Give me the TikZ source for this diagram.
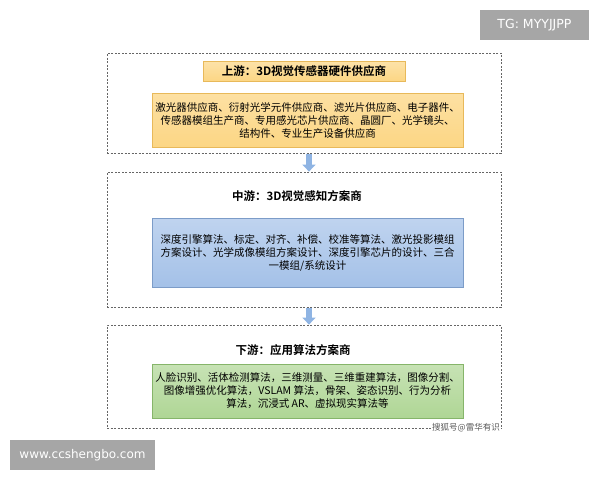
\documentclass[tikz,border=0pt]{standalone}
\usepackage{fontspec}
\setmainfont{Noto Sans CJK SC}[BoldFont={Noto Sans CJK SC Bold}]
\newfontfamily\wmfont{DejaVu Sans}
\usepackage{tikz}
\usetikzlibrary{arrows.meta, positioning, calc}

\definecolor{orangefill}{HTML}{FCD684}
\definecolor{orangeline}{HTML}{E8B95A}
\definecolor{bluefill}{HTML}{A4C1E8}
\definecolor{blueline}{HTML}{7C9CC8}
\definecolor{greenfill}{HTML}{AFD695}
\definecolor{greenline}{HTML}{86B56A}
\definecolor{arrowblue}{HTML}{8FB4E3}
\definecolor{wmgray}{HTML}{A6A6A6}

\begin{document}
\begin{tikzpicture}[x=1pt, y=-1pt, stagebox/.style={draw=gray!80!black,
      dash pattern=on 2pt off 1.5pt, line width=0.8pt, minimum width=394pt},
      headbox/.style={draw=orangeline, top color=orangefill!70,
      bottom color=orangefill, minimum width=202pt, minimum height=20pt,
      font=\fontsize{11.5}{13}\selectfont\bfseries}, headtext/.style={
      font=\fontsize{11.5}{13}\selectfont\bfseries}, detail/.style={
      minimum width=311pt, align=center, inner sep=0pt,
      font=\fontsize{10.5}{13}\selectfont}, flow/.style={line width=6pt,
      arrowblue, -{Triangle[length=7pt, width=13pt]}, shorten <=0.5pt},
      wmark/.style={fill=wmgray, text=white, inner sep=0pt} ]

    \useasboundingbox (0,0) rectangle (600,480);

    % Dashed stage frames
    \node[stagebox, minimum height=100pt] (up) at (304,103) {};
    \node[stagebox, minimum height=135pt] (mid) at (304,239.5) {};
    \node[stagebox, minimum height=103pt] (down) at (304,376.5) {};

    % Upstream
    \node[headbox] (uphead) at (304,71) {上游：3D视觉传感器硬件供应商};
    \node[detail, draw=orangeline, top color=orangefill!75, bottom
    color=orangefill, minimum height=54pt] (updetail) at (307.5,120)
    {激光器供应商、衍射光学元件供应商、滤光片供应商、电子器件、\\
    传感器模组生产商、专用感光芯片供应商、晶圆厂、光学镜头、\\
    结构件、专业生产设备供应商};

    % Midstream
    \node[headtext] (midhead) at (297,196) {中游：3D视觉感知方案商};
    \node[detail, draw=blueline, top color=bluefill!70, bottom
    color=bluefill, minimum height=69pt] (middetail) at (307.5,252.5)
    {深度引擎算法、标定、对齐、补偿、校准等算法、激光投影模组\\
    方案设计、光学成像模组方案设计、深度引擎芯片的设计、三合\\
    一模组/系统设计};

    % Downstream
    \node[headtext] (downhead) at (293,350) {下游：应用算法方案商};
    \node[detail, draw=greenline, top color=greenfill!70, bottom
    color=greenfill, minimum height=54pt] (downdetail) at (307.5,391)
    {人脸识别、活体检测算法，三维测量、三维重建算法，图像分割、\\
    图像增强优化算法，VSLAM 算法，骨架、姿态识别、行为分析\\
    算法，沉浸式 AR、虚拟现实算法等};

    % Flow arrows between stages
    \draw[flow] ($(up.south)+(5,0)$) -- ($(mid.north)+(5,0)$);
    \draw[flow] ($(mid.south)+(5,0)$) -- ($(down.north)+(5,0)$);

    % Source note
    \node[fill=white, text=gray!70!black, inner sep=1pt,
    font=\fontsize{8.5}{9}\selectfont] (source) at (466,428) {搜狐号@雷华有识};

    % Watermarks
    \node[wmark, minimum width=109pt, minimum height=30pt,
    font=\wmfont\fontsize{12.5}{14}\selectfont] (tg) at (534.5,25)
    {TG: MYYJJPP};
    \node[wmark, minimum width=145pt, minimum height=30pt,
    font=\wmfont\fontsize{12}{14}\selectfont] (site) at (82.5,455)
    {www.ccshengbo.com};

    \end{tikzpicture}
\end{document}
